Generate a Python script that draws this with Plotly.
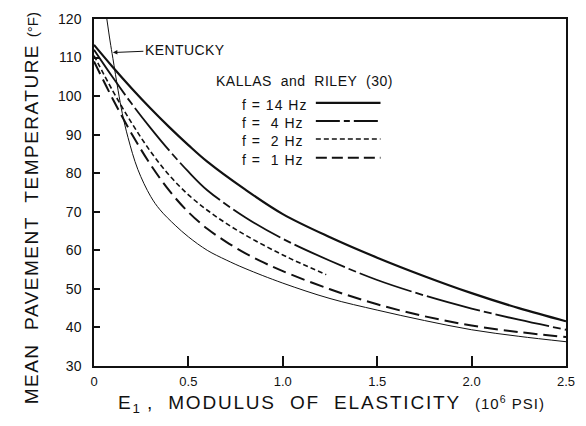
import plotly.graph_objects as go

# Modulus of elasticity E1 (10^6 psi) vs mean pavement temperature (deg F)
x_14hz = [0, 0.1, 0.2, 0.3, 0.4, 0.5, 0.6, 0.8, 1.0, 1.25, 1.5, 1.75, 2.0, 2.25, 2.5]
t_14hz = [113.3, 107.5, 102.0, 96.8, 91.9, 87.3, 83.0, 75.8, 69.4, 63.4, 58.1, 53.3, 48.9, 45.0, 41.6]

x_4hz = [0, 0.1, 0.2, 0.3, 0.4, 0.5, 0.6, 0.8, 1.0, 1.25, 1.5, 1.75, 2.0, 2.25, 2.5]
t_4hz = [112.0, 104.8, 98.0, 91.7, 85.8, 80.4, 75.6, 68.6, 63.0, 57.3, 52.3, 48.3, 44.9, 42.0, 39.4]

x_2hz = [0, 0.1, 0.2, 0.3, 0.4, 0.5, 0.6, 0.7, 0.8, 0.9, 1.0, 1.1, 1.23]
t_2hz = [110.5, 101.3, 93.0, 85.6, 79.4, 74.4, 70.4, 67.0, 64.0, 61.3, 58.8, 56.5, 53.7]

x_1hz = [0, 0.1, 0.2, 0.3, 0.4, 0.5, 0.6, 0.7, 0.8, 0.9, 1.0, 1.25, 1.5, 1.75, 2.0, 2.25, 2.5]
t_1hz = [109.0, 99.2, 90.2, 82.2, 75.4, 69.9, 65.6, 62.2, 59.3, 56.8, 54.6, 49.9, 46.0, 42.9, 40.5, 38.8, 37.5]

x_kentucky = [0.068, 0.085, 0.1, 0.128, 0.15, 0.18, 0.232, 0.3, 0.35, 0.43, 0.5, 0.6, 0.7,
              0.8, 1.0, 1.25, 1.5, 1.75, 2.0, 2.25, 2.5]
t_kentucky = [120.0, 114.3, 109.8, 101.4, 95.5, 89.3, 81.0, 74.0, 70.5, 66.5, 63.5, 60.0, 57.5,
              55.3, 51.5, 47.5, 44.5, 41.8, 39.4, 37.7, 36.3]

x_ticks = [0, 0.5, 1.0, 1.5, 2.0, 2.5]
x_tick_text = ["0", "0.5", "1.0", "1.5", "2.0", "2.5"]
y_ticks = [30, 40, 50, 60, 70, 80, 90, 100, 110, 120]

legend_labels = ["f = 14 Hz", "f =\u00a0\u00a04 Hz", "f =\u00a0\u00a02 Hz", "f =\u00a0\u00a01 Hz"]

FONT = "Liberation Sans, Arial, sans-serif"
INK = "#111111"


def spaced(text, px):
    return f"<span style='letter-spacing:{px}px'>{text}</span>"


styles = [
    dict(width=2.2, dash="solid", key="solid"),
    dict(width=1.8, dash="55px,4px,8px,4px", key="24px,4px,6px,4px"),
    dict(width=1.6, dash="5px,3px", key="5px,3px"),
    dict(width=2.0, dash="14px,6px", key="11px,5px"),
]

series = [(x_14hz, t_14hz), (x_4hz, t_4hz), (x_2hz, t_2hz), (x_1hz, t_1hz)]

fig = go.Figure()
for (xs, ys), st in zip(series, styles):
    fig.add_trace(go.Scatter(x=xs, y=ys, mode="lines", line_shape="spline",
                             line=dict(color=INK, width=st["width"], dash=st["dash"]),
                             showlegend=False, hoverinfo="skip"))

fig.add_trace(go.Scatter(x=x_kentucky, y=t_kentucky, mode="lines", line_shape="spline",
                         line=dict(color=INK, width=1.0), showlegend=False, hoverinfo="skip"))

# Hand-built key: label on the left, line sample on the right
key_rows_y = [0.752, 0.700, 0.648, 0.594]
for label, st, ky in zip(legend_labels, styles, key_rows_y):
    fig.add_annotation(x=0.309, y=ky, xref="paper", yref="paper", text=spaced(label, 1),
                       showarrow=False, xanchor="left", yanchor="middle",
                       font=dict(family=FONT, size=14, color=INK))
    fig.add_shape(type="line", xref="paper", yref="paper", x0=0.47, x1=0.607, y0=ky + 0.006, y1=ky + 0.006,
                  line=dict(color=INK, width=st["width"], dash=st["key"]))

fig.add_annotation(x=0.254, y=0.82, xref="paper", yref="paper",
                   text=spaced("KALLAS\u00a0\u00a0and\u00a0\u00a0RILEY\u00a0\u00a0(30)", 0.5),
                   showarrow=False, xanchor="left", yanchor="middle",
                   font=dict(family=FONT, size=14, color=INK))

# Callout for the Kentucky curve
fig.add_annotation(x=0.1, y=111.3, xref="x", yref="y", text=spaced("KENTUCKY", 0.4),
                   showarrow=True, arrowhead=2, arrowsize=0.9, arrowwidth=1, arrowcolor=INK,
                   ax=72, ay=-3, font=dict(family=FONT, size=14, color=INK))

# Axis titles
fig.add_annotation(x=-0.133, y=0.455, xref="paper", yref="paper", textangle=-90,
                   text=spaced("MEAN\u00a0\u00a0PAVEMENT\u00a0\u00a0TEMPERATURE\u00a0", 1.5)
                   + "<span style='font-size:15px'>(°F)</span>",
                   showarrow=False, xanchor="center", yanchor="middle",
                   font=dict(family=FONT, size=19, color=INK))
fig.add_annotation(x=0.503, y=-0.11, xref="paper", yref="paper",
                   text=spaced("E", 1.8) + "<sub>1</sub>"
                   + spaced("\u00a0,\u00a0\u00a0MODULUS\u00a0\u00a0OF\u00a0\u00a0ELASTICITY\u00a0\u00a0", 1.8)
                   + "<span style='font-size:15px;letter-spacing:1px'>(10<sup>6</sup> PSI)</span>",
                   showarrow=False, xanchor="center", yanchor="middle",
                   font=dict(family=FONT, size=19, color=INK))

fig.update_xaxes(range=[0, 2.5], tickvals=x_ticks, ticktext=x_tick_text,
                 ticks="inside", ticklen=10, tickwidth=1.5, tickcolor=INK,
                 showline=True, linecolor=INK, linewidth=1.5, mirror=True,
                 showgrid=False, zeroline=False, ticklabelstandoff=3,
                 tickfont=dict(family=FONT, size=13, color=INK))
fig.update_yaxes(range=[30, 120], tickvals=y_ticks,
                 ticks="inside", ticklen=6, tickwidth=1.5, tickcolor=INK,
                 showline=True, linecolor=INK, linewidth=1.5, mirror=True,
                 showgrid=False, zeroline=False, ticklabelstandoff=8,
                 tickfont=dict(family=FONT, size=14, color=INK))

fig.update_layout(width=586, height=426, margin=dict(l=94, r=11, t=18, b=60),
                  plot_bgcolor="white", paper_bgcolor="white")

fig.write_html("out.html")
